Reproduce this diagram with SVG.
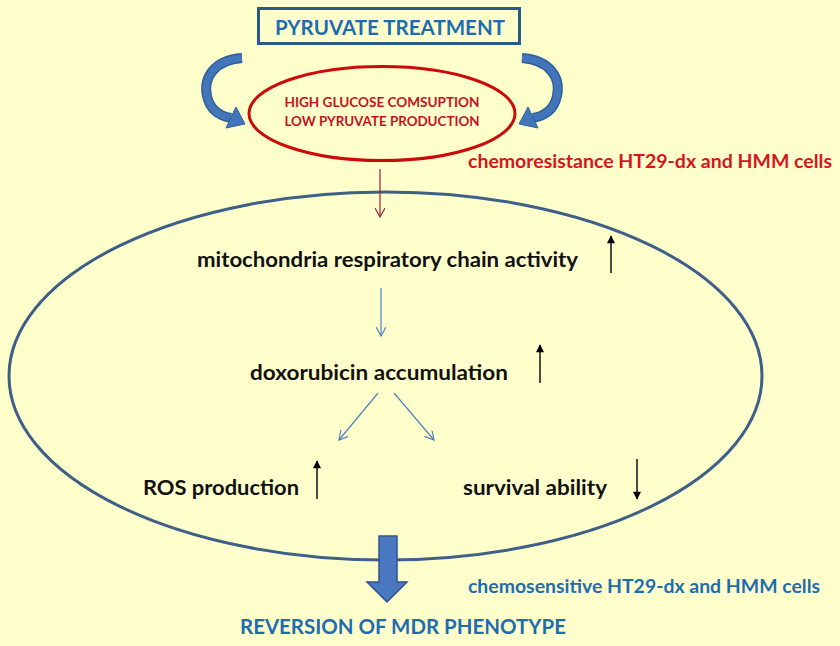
<svg xmlns="http://www.w3.org/2000/svg" width="840" height="646" viewBox="0 0 840 646">
<defs>
<style>
.t{font-family:Lato,"Liberation Sans",sans-serif;font-weight:bold;}
.blk{fill:#111;font-size:21px;}
.blue{fill:#1E6CB0;}
.red{fill:#C8101E;}
.thinb{stroke:#4F82C0;stroke-width:1.2;fill:none;}
.blkarr{stroke:#000;stroke-width:1.4;fill:none;}
</style>
<marker id="vb" viewBox="0 0 10 10" refX="9" refY="5" markerWidth="10" markerHeight="10" markerUnits="userSpaceOnUse" orient="auto"><path d="M0,0 L9,5 L0,10" fill="none" stroke="#4F82C0" stroke-width="1.2"/></marker>
<marker id="vr" viewBox="0 0 10 10" refX="9" refY="5" markerWidth="10" markerHeight="10" markerUnits="userSpaceOnUse" orient="auto"><path d="M0,0 L9,5 L0,10" fill="none" stroke="#A0203A" stroke-width="1.2"/></marker>
<marker id="fk" viewBox="0 0 10 10" refX="9" refY="5" markerWidth="10" markerHeight="8" markerUnits="userSpaceOnUse" orient="auto"><path d="M0,0 L10,5 L0,10 Z" fill="#000"/></marker>
<g id="curv">
<path d="M242,58 C214,60 203,78 207,96 C210,110 220,116 231,118" fill="none" stroke="#2F5F99" stroke-width="10"/>
<path d="M242,58 C214,60 203,78 207,96 C210,110 220,116 231,118" fill="none" stroke="#4275BA" stroke-width="7"/>
<polygon points="236,107 245,124 226,128" fill="#4275BA" stroke="#2F5F99" stroke-width="1"/>
</g>
</defs>
<rect x="0" y="0" width="840" height="646" fill="#FFFFCC"/>

<g id="cell">
<ellipse cx="385.5" cy="376" rx="376.5" ry="184" fill="none" stroke="#3E5F88" stroke-width="3"/>
</g>

<g id="pyruvate">
<rect x="258.5" y="8.5" width="261" height="35" fill="none" stroke="#2A5A86" stroke-width="3"/>
<text class="t blue" x="390" y="35" font-size="21" text-anchor="middle" textLength="230" lengthAdjust="spacingAndGlyphs">PYRUVATE TREATMENT</text>
</g>

<g id="glucose">
<ellipse cx="382" cy="113.5" rx="133" ry="47" fill="none" stroke="#CC0A0A" stroke-width="3"/>
<text class="t red" x="382" y="107" font-size="14" text-anchor="middle" textLength="195" lengthAdjust="spacingAndGlyphs">HIGH GLUCOSE COMSUPTION</text>
<text class="t red" x="382" y="126" font-size="14" text-anchor="middle" textLength="195" lengthAdjust="spacingAndGlyphs">LOW PYRUVATE PRODUCTION</text>
</g>

<g id="chemoresistance">
<text class="t" x="468" y="168" font-size="19" fill="#D8141C" textLength="364" lengthAdjust="spacingAndGlyphs">chemoresistance  HT29-dx and HMM  cells</text>
</g>

<g id="mitochondria">
<text class="t blk" x="197" y="267" textLength="381" lengthAdjust="spacingAndGlyphs">mitochondria respiratory chain activity</text>
</g>

<g id="doxorubicin">
<text class="t blk" x="250" y="380" textLength="258" lengthAdjust="spacingAndGlyphs">doxorubicin accumulation</text>
</g>

<g id="ros">
<text class="t blk" x="143" y="495" textLength="156" lengthAdjust="spacingAndGlyphs">ROS production</text>
</g>

<g id="survival">
<text class="t blk" x="463" y="495" textLength="144" lengthAdjust="spacingAndGlyphs">survival ability</text>
</g>

<g id="chemosensitive">
<text class="t blue" x="468" y="593" font-size="18" textLength="352" lengthAdjust="spacingAndGlyphs">chemosensitive  HT29-dx and HMM  cells</text>
</g>

<g id="reversion">
<text class="t blue" x="240" y="634" font-size="21" textLength="326" lengthAdjust="spacingAndGlyphs">REVERSION OF MDR PHENOTYPE</text>
</g>

<g id="connectors">
<use href="#curv"/>
<use href="#curv" transform="translate(764,0) scale(-1,1)"/>
<line x1="380" y1="169" x2="380" y2="217" stroke="#A0203A" stroke-width="1.2" marker-end="url(#vr)"/>
<line class="thinb" x1="381" y1="288" x2="381" y2="336" marker-end="url(#vb)"/>
<line class="thinb" x1="378" y1="393" x2="339" y2="440" marker-end="url(#vb)"/>
<line class="thinb" x1="394" y1="393" x2="434" y2="440" marker-end="url(#vb)"/>
<line class="blkarr" x1="611" y1="273" x2="611" y2="236" marker-end="url(#fk)"/>
<line class="blkarr" x1="540" y1="383" x2="540" y2="345" marker-end="url(#fk)"/>
<line class="blkarr" x1="317" y1="499" x2="317" y2="461" marker-end="url(#fk)"/>
<line class="blkarr" x1="637" y1="459" x2="637" y2="499" marker-end="url(#fk)"/>
<polygon points="379,536 397,536 397,582 407,582 387,602 367,582 379,582" fill="#4A78C0" stroke="#2F528F" stroke-width="1.5"/>
</g>
</svg>
